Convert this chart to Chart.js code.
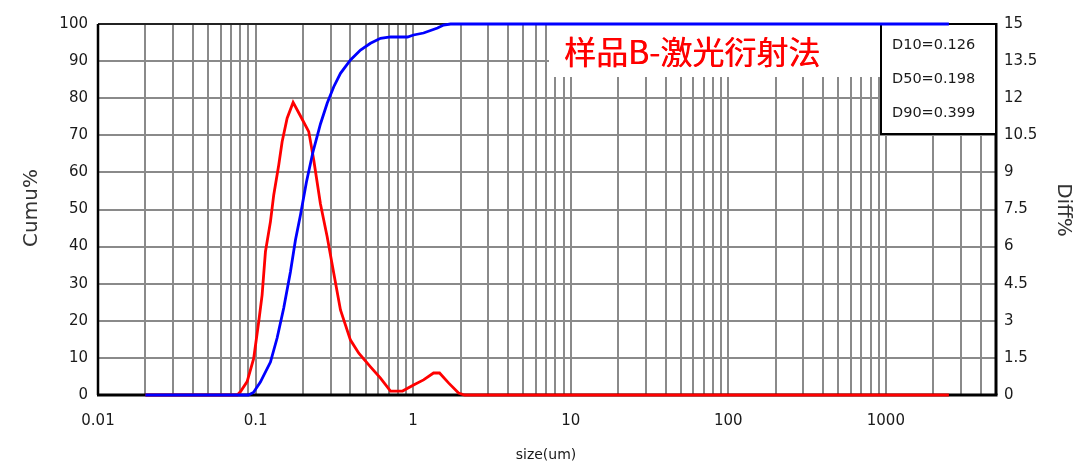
<!DOCTYPE html>
<html lang="zh-CN">
<head>
<meta charset="utf-8">
<title>样品B-激光衍射法</title>
<script src="https://cdn.jsdelivr.net/npm/chart.js@4/dist/chart.umd.min.js"></script>
<style>
  html, body { margin: 0; padding: 0; background: #fff; }
  #wrap { width: 1080px; height: 467px; }
</style>
</head>
<body>
<div id="wrap"><canvas id="psd" width="1080" height="467"></canvas></div>
<script>
// ── Data ────────────────────────────────────────────────────────────────────
// differential distribution, right axis (Diff%)
const diffSize = [0.02, 0.0766, 0.0801, 0.0884, 0.0973, 0.1047, 0.110, 0.1155, 0.1243, 0.1304,
                  0.1403, 0.1474, 0.1586, 0.1731, 0.1927, 0.2175, 0.234, 0.2581, 0.2847, 0.3135,
                  0.3458, 0.4002, 0.4519, 0.5362, 0.6205, 0.7184, 0.8564, 1.006, 1.164, 1.347,
                  1.471, 1.677, 1.942, 2.12, 2512];
const diffPct  = [0, 0, 0.13, 0.54, 1.48, 2.96, 4.04, 5.79, 7.01, 8.09,
                  9.30, 10.24, 11.19, 11.83, 11.28, 10.65, 9.50, 7.72, 6.40, 4.92,
                  3.44, 2.22, 1.69, 1.14, 0.68, 0.16, 0.16, 0.40, 0.61, 0.89,
                  0.89, 0.49, 0.08, 0, 0];

// cumulative distribution, left axis (Cumu%)
const cumuSize = [0.02, 0.0901, 0.0969, 0.1073, 0.1243, 0.137, 0.1509, 0.1664, 0.1791, 0.1927,
                  0.2103, 0.2313, 0.2581, 0.2847, 0.3135, 0.3458, 0.4002, 0.4633, 0.5362, 0.6205,
                  0.7184, 0.9211, 1.006, 1.164, 1.428, 1.56, 1.728, 2512];
const cumuPct  = [0, 0, 0.67, 3.50, 8.89, 15.36, 23.45, 33.15, 41.78, 48.52,
                  57.41, 65.50, 73.05, 78.63, 83.10, 86.71, 90.30, 92.99, 94.80, 96.15,
                  96.50, 96.50, 97.04, 97.57, 98.92, 99.73, 100, 100];

// ── Axes / labels ───────────────────────────────────────────────────────────
const xDecades     = [0.01, 0.1, 1, 10, 100, 1000];
const xTickLabels  = ['0.01', '0.1', '1', '10', '100', '1000'];
const xMin = 0.01, xMax = 5000;
const cumuTickLabels = ['0', '10', '20', '30', '40', '50', '60', '70', '80', '90', '100'];
const diffTickLabels = ['0', '1.5', '3', '4.5', '6', '7.5', '9', '10.5', '12', '13.5', '15'];

const titleText = '样品B-激光衍射法';
const dLabels   = ['D10=0.126', 'D50=0.198', 'D90=0.399'];

const FONT  = 'DejaVu Sans';
const INK   = '#1a1a1a';
const GRID  = '#8a8a8a';

// all 1..9 multiples per decade, used as gridline positions
const xGrid = [];
for (const d of xDecades) {
  for (let m = 1; m <= 9; m++) if (d * m <= xMax) xGrid.push(d * m);
}

const toPoints = (xs, ys) => xs.map((x, i) => ({ x, y: ys[i] }));

// ── Overlay: frame, boxes, axis titles ──────────────────────────────────────
const overlay = {
  id: 'overlay',
  beforeDatasetsDraw(chart) {
    const { ctx, chartArea: a } = chart;
    ctx.save();

    // frame
    ctx.strokeStyle = '#000';
    ctx.lineWidth = 1.5;
    ctx.beginPath(); ctx.moveTo(a.left, a.top); ctx.lineTo(a.right, a.top); ctx.stroke();
    ctx.lineWidth = 2.5;
    ctx.beginPath(); ctx.moveTo(a.left, a.top); ctx.lineTo(a.left, a.bottom); ctx.stroke();
    ctx.lineWidth = 3;
    ctx.beginPath(); ctx.moveTo(a.left - 1, a.bottom); ctx.lineTo(a.right + 1.5, a.bottom); ctx.stroke();
    ctx.beginPath(); ctx.moveTo(a.right, a.top - 1); ctx.lineTo(a.right, a.bottom); ctx.stroke();

    // title box (white, hides grid)
    ctx.fillStyle = '#fff';
    ctx.fillRect(549, a.top + 1, 332, 52);
    ctx.fillStyle = '#ff0000';
    ctx.font = '32px "Noto Sans CJK SC"';
    ctx.textBaseline = 'middle';
    ctx.textAlign = 'left';
    ctx.fillText(titleText, 564, 52);
    // slight overstrike to thicken the strokes like the original
    ctx.fillText(titleText, 564.6, 52);

    // D-values box
    ctx.fillStyle = '#fff';
    ctx.fillRect(881, a.top, a.right - 881, 110);
    ctx.strokeStyle = '#000';
    ctx.lineWidth = 2;
    ctx.strokeRect(881, a.top, a.right - 881, 110);
    ctx.fillStyle = INK;
    ctx.font = `14.5px "${FONT}"`;
    dLabels.forEach((t, i) => ctx.fillText(t, 892, 45 + i * 34));

    ctx.restore();
  },
  afterDraw(chart) {
    const { ctx } = chart;
    ctx.save();
    ctx.fillStyle = '#333';
    ctx.textAlign = 'center';
    ctx.textBaseline = 'middle';

    ctx.font = `20px "${FONT}"`;
    ctx.save(); ctx.translate(32, 208); ctx.rotate(-Math.PI / 2); ctx.fillText('Cumu%', 0, 0); ctx.restore();
    ctx.save(); ctx.translate(1063, 210); ctx.rotate(Math.PI / 2); ctx.fillText('Diff%', 0, 0); ctx.restore();

    ctx.fillStyle = INK;
    ctx.font = `14px "${FONT}"`;
    ctx.fillText('size(um)', 546, 455);
    ctx.restore();
  },
};

// ── Chart ───────────────────────────────────────────────────────────────────
const tickFont = { family: FONT, size: 15 };

new Chart(document.getElementById('psd'), {
  type: 'line',
  data: {
    datasets: [
      {
        label: 'Cumu%',
        data: toPoints(cumuSize, cumuPct),
        yAxisID: 'y',
        borderColor: '#0000ff',
        borderWidth: 2.8,
        pointRadius: 0,
        tension: 0,
        clip: false,
        order: 0,
      },
      {
        label: 'Diff%',
        data: toPoints(diffSize, diffPct),
        yAxisID: 'y2',
        borderColor: '#ff0000',
        borderWidth: 2.8,
        pointRadius: 0,
        tension: 0,
        clip: false,
        order: 1,
      },
    ],
  },
  options: {
    responsive: false,
    animation: false,
    events: [],
    layout: { padding: { top: 24, left: 0, right: 0, bottom: 0 } },
    plugins: { legend: { display: false }, tooltip: { enabled: false } },
    scales: {
      x: {
        type: 'logarithmic',
        min: xMin,
        max: xMax,
        afterBuildTicks: s => { s.ticks = xGrid.map(v => ({ value: v })); },
        afterFit: s => { s.height = 72; },
        grid: { color: GRID, lineWidth: 2, drawTicks: false },
        border: { display: false },
        ticks: {
          autoSkip: false,
          maxRotation: 0,
          padding: 17,
          color: INK,
          font: tickFont,
          callback: v => {
            const i = xDecades.indexOf(v);
            return i >= 0 ? xTickLabels[i] : '';
          },
        },
      },
      y: {
        position: 'left',
        min: 0,
        max: 100,
        afterFit: s => { s.width = 98; },
        grid: { color: GRID, lineWidth: 2, drawTicks: false },
        border: { display: false },
        ticks: {
          stepSize: 10,
          padding: 10,
          color: INK,
          font: tickFont,
          callback: v => cumuTickLabels[Math.round(v / 10)],
        },
      },
      y2: {
        position: 'right',
        min: 0,
        max: 15,
        afterFit: s => { s.width = 84; },
        grid: { drawOnChartArea: false, drawTicks: false },
        border: { display: false },
        ticks: {
          stepSize: 1.5,
          padding: 8,
          color: INK,
          font: tickFont,
          callback: v => diffTickLabels[Math.round(v / 1.5)],
        },
      },
    },
  },
  plugins: [overlay],
});
</script>
</body>
</html>
